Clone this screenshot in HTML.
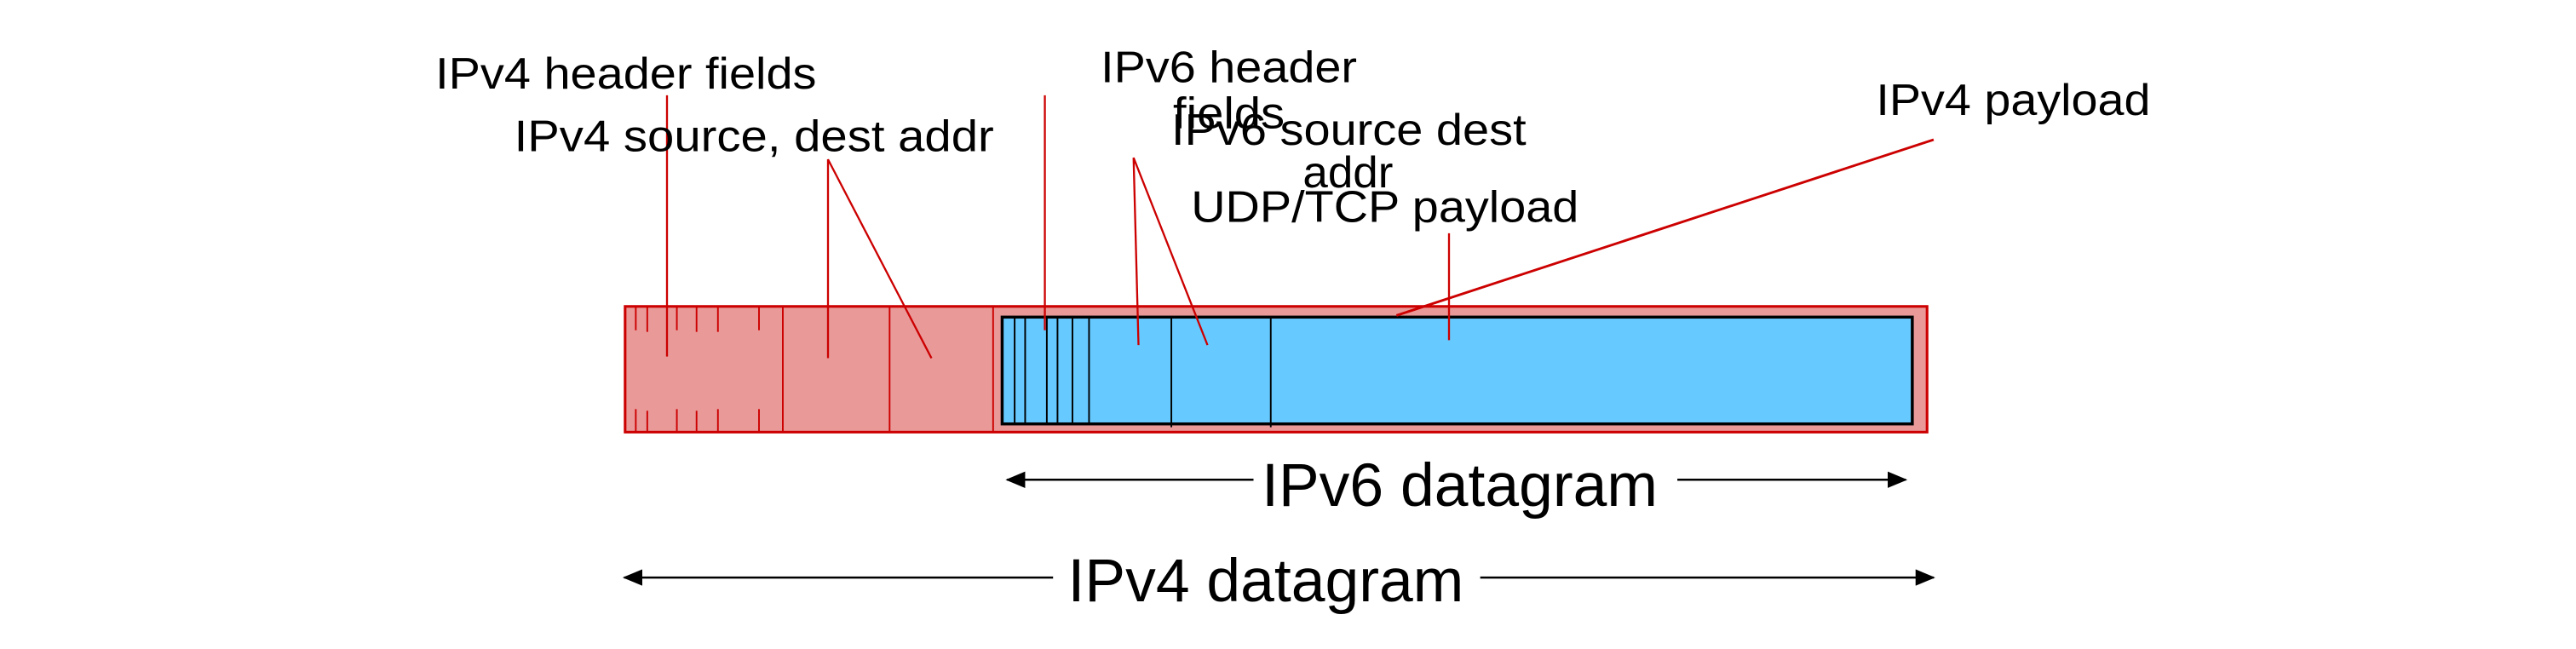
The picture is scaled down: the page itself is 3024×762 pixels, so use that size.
<!DOCTYPE html>
<html><head><style>html,body{margin:0;padding:0;background:#fff;}svg{display:block}</style></head>
<body>
<svg width="3024" height="762" viewBox="0 0 1568 395" preserveAspectRatio="none" xmlns="http://www.w3.org/2000/svg" font-family="Liberation Sans, Arial, sans-serif">
<defs>
<marker id="ah" markerWidth="12" markerHeight="10" refX="11" refY="5" orient="auto" markerUnits="userSpaceOnUse">
<path d="M0,0 L12,5 L0,10 Z" fill="#000"/></marker>
</defs>
<rect x="380.5" y="186.5" width="792.5" height="76.5" fill="#ea9999" stroke="#cc0000" stroke-width="1.6"/>
<g stroke="#cc0000" stroke-width="1">
<line x1="476.5" y1="187" x2="476.5" y2="263"/>
<line x1="541.5" y1="187" x2="541.5" y2="263"/>
<line x1="604.5" y1="187" x2="604.5" y2="263"/>
<line x1="387" y1="187" x2="387" y2="201"/><line x1="394" y1="187" x2="394" y2="202"/>
<line x1="412" y1="187" x2="412" y2="201"/><line x1="424" y1="187" x2="424" y2="202"/>
<line x1="437" y1="187" x2="437" y2="202"/><line x1="462" y1="187" x2="462" y2="201"/>
<line x1="387" y1="249" x2="387" y2="263"/><line x1="394" y1="250" x2="394" y2="263"/>
<line x1="412" y1="249" x2="412" y2="263"/><line x1="424" y1="250" x2="424" y2="263"/>
<line x1="437" y1="249" x2="437" y2="263"/><line x1="462" y1="249" x2="462" y2="263"/>
</g>
<rect x="610" y="193" width="554" height="65" fill="#66c9ff" stroke="#000" stroke-width="1.8"/>
<g stroke="#000" stroke-width="1">
<line x1="617.6" y1="193" x2="617.6" y2="258"/><line x1="624" y1="193" x2="624" y2="258"/>
<line x1="637.2" y1="193" x2="637.2" y2="258"/><line x1="643.7" y1="193" x2="643.7" y2="258"/>
<line x1="652.8" y1="193" x2="652.8" y2="258"/><line x1="662.9" y1="193" x2="662.9" y2="258"/>
<line x1="713" y1="193" x2="713" y2="260"/><line x1="773.5" y1="193" x2="773.5" y2="260"/>
</g>
<g stroke="#cc0000" stroke-width="1.2" fill="none">
<line x1="406" y1="58" x2="406" y2="217"/>
<polyline points="504,218 504,97 567,218"/>
<line x1="636" y1="58" x2="636" y2="201"/>
<polyline points="693,210 690,96 735,210"/>
<line x1="882" y1="142" x2="882" y2="207"/>
<line x1="1177" y1="85" x2="850" y2="192" stroke-width="1.5"/>
</g>
<g font-size="27" fill="#000" lengthAdjust="spacingAndGlyphs">
<text x="265" y="54" textLength="232" lengthAdjust="spacingAndGlyphs">IPv4 header fields</text>
<text x="313" y="92" textLength="292" lengthAdjust="spacingAndGlyphs">IPv4 source, dest addr</text>
<text x="670" y="50" textLength="156" lengthAdjust="spacingAndGlyphs">IPv6 header</text>
<text x="714" y="78" textLength="68" lengthAdjust="spacingAndGlyphs">fields</text>
<text x="713" y="88" textLength="216" lengthAdjust="spacingAndGlyphs">IPv6 source dest</text>
<text x="793" y="114" textLength="55" lengthAdjust="spacingAndGlyphs">addr</text>
<text x="725" y="135" textLength="236" lengthAdjust="spacingAndGlyphs">UDP/TCP payload</text>
<text x="1142" y="70" textLength="167" lengthAdjust="spacingAndGlyphs">IPv4 payload</text>
</g>
<g font-size="37" fill="#000">
<text x="768" y="308" textLength="241" lengthAdjust="spacingAndGlyphs">IPv6 datagram</text>
<text x="650" y="366" textLength="241" lengthAdjust="spacingAndGlyphs">IPv4 datagram</text>
</g>
<g stroke="#000" stroke-width="1.3">
<line x1="763" y1="292" x2="613" y2="292" marker-end="url(#ah)"/>
<line x1="1021" y1="292" x2="1160" y2="292" marker-end="url(#ah)"/>
<line x1="641" y1="351.5" x2="380" y2="351.5" marker-end="url(#ah)"/>
<line x1="901" y1="351.5" x2="1177" y2="351.5" marker-end="url(#ah)"/>
</g>
</svg>
</body></html>
